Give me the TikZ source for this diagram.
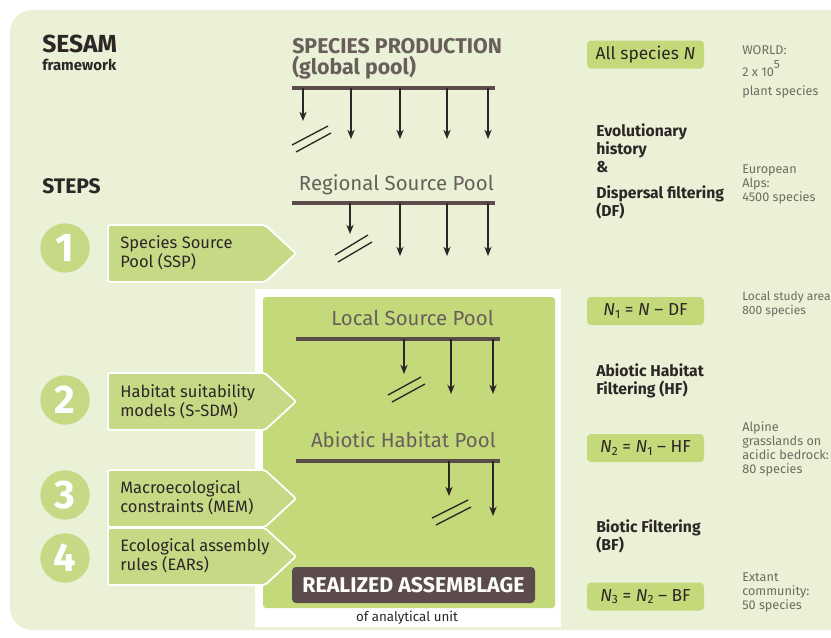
\documentclass[tikz,border=0pt]{standalone}
\usepackage{fontspec}
\setmainfont{Fira Sans}
\usetikzlibrary{arrows.meta}
\definecolor{bg}{RGB}{234,241,214}
\definecolor{lime}{RGB}{196,217,122}
\definecolor{tagc}{RGB}{198,218,134}
\definecolor{darkc}{RGB}{91,76,75}
\definecolor{ink}{RGB}{45,38,38}
\definecolor{infoc}{RGB}{112,106,98}
\definecolor{poolc}{RGB}{105,95,90}
\tikzset{
  bar/.style={draw=darkc, line width=3.4pt},
  arr/.style={draw=ink, line width=1.05pt, -{Stealth[length=7pt,width=5.5pt]}},
  slash/.style={draw=ink, line width=1pt},
  tagbox/.style={fill=tagc, draw=white, line width=1.35pt, rounded corners=1.5pt},
  numc/.style={circle, fill=tagc, minimum size=37pt, inner sep=0pt, text=white, font=\bfseries\fontsize{30}{30}\selectfont},
  tagtxt/.style={anchor=west, align=left, text=ink, font=\fontsize{12.4}{12.8}\selectfont, inner sep=0pt},
  nbox/.style={fill=lime, rounded corners=3pt, minimum width=87.75pt, minimum height=21pt, text=ink, font=\fontsize{13}{13}\selectfont, inner sep=0pt},
  info/.style={anchor=north west, align=left, text=infoc, font=\fontsize{9.5}{10.5}\selectfont, inner sep=0pt},
  filt/.style={anchor=north west, align=left, text=ink, font=\bfseries\fontsize{11.8}{13.5}\selectfont, inner sep=0pt},
  pool/.style={anchor=base east, text=poolc, font=\fontsize{15.3}{15.3}\selectfont, inner sep=0pt},
}
\begin{document}
\begin{tikzpicture}[x=0.75pt,y=-0.75pt]
\useasboundingbox (0,0) rectangle (831,637);
\fill[white] (0,0) rectangle (831,637);
\fill[bg, rounded corners=16.5pt] (10,10) rectangle (860,630);

% analytical unit frame
\fill[white] (255,289) rectangle (561,627);
\fill[lime, rounded corners=2.25pt] (263,297) rectangle (555,608);
\node[anchor=base, text=ink, font=\fontsize{10}{10}\selectfont, inner sep=0pt] (unit) at (407,621) {of analytical unit};

% titles
\node[anchor=base west, text=ink, font=\bfseries\fontsize{18.5}{18.5}\selectfont, inner sep=0pt] (sesam) at (42,52) {SESAM};
\node[anchor=base west, text=ink, font=\bfseries\fontsize{11.2}{11.2}\selectfont, inner sep=0pt] (fw) at (42,70) {framework};
\node[anchor=base west, text=ink, font=\bfseries\fontsize{15.8}{15.8}\selectfont, inner sep=0pt] (steps) at (42,193) {STEPS};

% species production
\node[anchor=base west, text=poolc, font=\bfseries\fontsize{16}{16}\selectfont, inner sep=0pt] (sp) at (292,53) {SPECIES PRODUCTION};
\node[anchor=base west, text=poolc, font=\bfseries\fontsize{16}{16}\selectfont, inner sep=0pt] (gp) at (292,74) {(global pool)};
\draw[bar] (292,88) coordinate (b1l) -- (495,88) coordinate (b1r);
\draw[arr] (303,88) -- (303,121);
\foreach \x in {351,400,447,488} \draw[arr] (\x,88) -- (\x,139);
\draw[slash] (292,145) -- (328,126);
\draw[slash] (296,152) -- (331,133);

% regional
\node[pool] (rsp) at (494,190) {Regional Source Pool};
\draw[bar] (292,203) coordinate (b2l) -- (495,203) coordinate (b2r);
\draw[arr] (350,203) -- (350,234);
\foreach \x in {400,447,488} \draw[arr] (\x,203) -- (\x,256);
\draw[slash] (335,255) -- (368,235);
\draw[slash] (338,262) -- (372,242);

% local
\node[pool] (lsp) at (494,325) {Local Source Pool};
\draw[bar] (296,339) coordinate (b3l) -- (500,339) coordinate (b3r);
\draw[arr] (404,339) -- (404,374);
\foreach \x in {451,493} \draw[arr] (\x,339) -- (\x,394);
\draw[slash] (388,395) -- (421,377);
\draw[slash] (392,402) -- (425,384);

% abiotic
\node[pool] (ahp) at (496,447) {Abiotic Habitat Pool};
\draw[bar] (296,461) coordinate (b4l) -- (500,461) coordinate (b4r);
\draw[arr] (449,461) -- (449,496);
\draw[arr] (493,461) -- (493,516);
\draw[slash] (432,518) -- (468,500);
\draw[slash] (436,525) -- (471,507);

% realized
\node[fill=darkc, rounded corners=3pt, minimum width=182.25pt, minimum height=27pt, text=white!92!bg, font=\bfseries\fontsize{16}{16}\selectfont, inner sep=0pt] (ra) at (413.5,585) {REALIZED ASSEMBLAGE};

% step tags
\draw[tagbox] (108,225) -- (265,225) -- (296,253.5) -- (265,282) -- (108,282) -- cycle;
\draw[tagbox] (108,373) -- (265,373) -- (296,401.5) -- (265,430) -- (108,430) -- cycle;
\draw[tagbox] (108,470) -- (265,470) -- (296,498.5) -- (265,527) -- (108,527) -- cycle;
\draw[tagbox] (108,528) -- (265,528) -- (296,556.5) -- (265,585) -- (108,585) -- cycle;
\node[tagtxt] (t1) at (120,253) {Species Source\\Pool (SSP)};
\node[tagtxt] (t2) at (120,402) {Habitat suitability\\models (S-SDM)};
\node[tagtxt] (t3) at (120,498) {Macroecological\\constraints (MEM)};
\node[tagtxt] (t4) at (120,556) {Ecological assembly\\rules (EARs)};
\node[numc] (n1) at (65,248) {1};
\node[numc] (n2) at (65,400) {2};
\node[numc] (n3) at (65,495) {3};
\node[numc] (n4) at (65,558) {4};

% right column boxes
\node[nbox] (all) at (645.5,54.5) {All species \textit{N}};
\node[nbox] (e1) at (645.5,311) {\textit{N}\raisebox{-0.3ex}{\small 1} = \textit{N} – DF};
\node[nbox] (e2) at (645.5,448) {\textit{N}\raisebox{-0.3ex}{\small 2} = \textit{N}\raisebox{-0.3ex}{\small 1} – HF};
\node[nbox] (e3) at (645.5,596.5) {\textit{N}\raisebox{-0.3ex}{\small 3} = \textit{N}\raisebox{-0.3ex}{\small 2} – BF};

% filter labels
\node[filt] (f1) at (596,123) {Evolutionary\\history\\\&\\[6.5pt]Dispersal filtering\\(DF)};
\node[filt] (f2) at (596,363) {Abiotic Habitat\\Filtering (HF)};
\node[filt] (f3) at (596,519) {Biotic Filtering\\(BF)};

% info
\node[info] (i1) at (742,45) {WORLD:\\[3.75pt]2 x 10\raisebox{1.2ex}{\small 5}\\[3.75pt]plant species};
\node[info] (i2) at (742,164) {European\\Alps:\\4500 species};
\node[info, font=\fontsize{9}{10.5}\selectfont] (i3) at (742,291) {Local study area\\800 species};
\node[info] (i4) at (742,421) {Alpine\\grasslands on\\acidic bedrock:\\80 species};
\node[info] (i5) at (742,572) {Extant\\community:\\50 species};
\end{tikzpicture}
\end{document}
